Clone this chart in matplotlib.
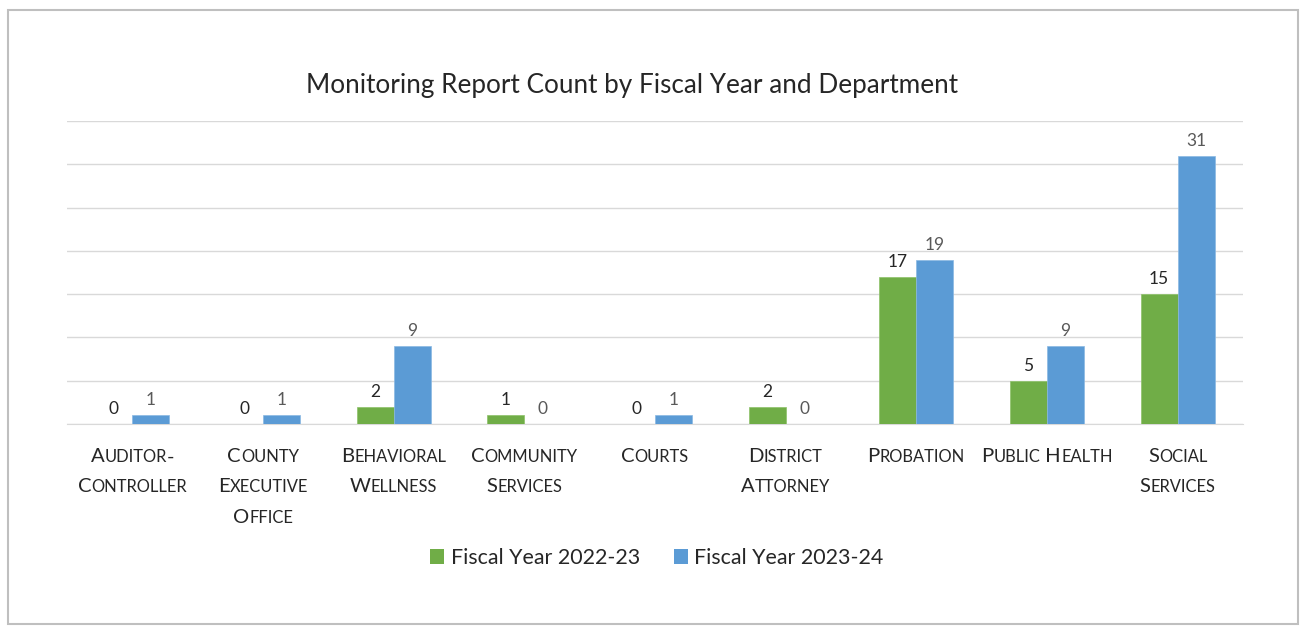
import matplotlib.pyplot as plt
import numpy as np
from matplotlib.offsetbox import TextArea, HPacker, VPacker, AnnotationBbox
from matplotlib.patches import Rectangle, Patch

plt.rcParams['font.family'] = ['Lato', 'DejaVu Sans']

# Dati
departments = ['Auditor-\nController', 'County\nExecutive\nOffice', 'Behavioral\nWellness',
               'Community\nServices', 'Courts', 'District\nAttorney', 'Probation',
               'Public Health', 'Social\nServices']
fy_2223 = [0, 0, 2, 1, 0, 2, 17, 5, 15]
fy_2324 = [1, 1, 9, 0, 1, 0, 19, 9, 31]
series_names = ['Fiscal Year 2022-23', 'Fiscal Year 2023-24']

green = '#70ad47'
blue = '#5b9bd5'

fig = plt.figure(figsize=(13.01, 6.27), dpi=100)
# cornice grigia attorno al grafico
fig.patches.append(Rectangle((8 / 1301, 3 / 627), 1290 / 1301, 614 / 627,
                             transform=fig.transFigure, fill=False,
                             edgecolor='#bfbfbf', linewidth=1.5))

ax = fig.add_axes([67 / 1301, 203 / 627, 1176 / 1301, 303 / 627])

x = np.arange(len(departments))
w = 0.283
b1 = ax.bar(x - w / 2, fy_2223, w, color=green, edgecolor='#8cc168', linewidth=0.5, zorder=3)
b2 = ax.bar(x + w / 2, fy_2324, w, color=blue, edgecolor='#8ab8e3', linewidth=0.5, zorder=3)

for rect, v in zip(b1, fy_2223):
    ax.annotate(str(v), (rect.get_x() + rect.get_width() / 2, v), xytext=(0, 5),
                textcoords='offset points', ha='center', va='bottom', fontsize=12.5, color='#262626')
for rect, v in zip(b2, fy_2324):
    ax.annotate(str(v), (rect.get_x() + rect.get_width() / 2, v), xytext=(0, 5),
                textcoords='offset points', ha='center', va='bottom', fontsize=12.5, color='#595959')

ax.set_xlim(-0.5, len(departments) - 0.5)
ax.set_ylim(0, 35)
ax.set_yticks(np.arange(0, 36, 5))
ax.set_yticklabels([])
ax.set_xticks([])
ax.tick_params(length=0)
ax.grid(axis='y', color='#d9d9d9', linewidth=1, zorder=0)
for s in ['top', 'right', 'left']:
    ax.spines[s].set_visible(False)
ax.spines['bottom'].set_color('#d9d9d9')


# etichette in maiuscoletto (small caps) costruite a pezzi
def small_caps_line(text, big=14.6, small=11.9):
    parts = []
    run, run_small = '', None
    for ch in text:
        is_small = ch.islower()
        if run_small is not None and is_small != run_small:
            parts.append((run, run_small))
            run = ''
        run += ch.upper()
        run_small = is_small
    if run:
        parts.append((run, run_small))
    boxes = [TextArea(t, textprops=dict(fontsize=small if s else big, color='#262626'))
             for t, s in parts]
    return HPacker(children=boxes, align='baseline', pad=0, sep=0)


for i, lab in enumerate(departments):
    lines = [small_caps_line(l) for l in lab.split('\n')]
    box = VPacker(children=lines, align='center', pad=0, sep=9.5)
    ab = AnnotationBbox(box, (i, 0), xycoords=('data', 'axes fraction'),
                        xybox=(0, -17.5), boxcoords='offset points',
                        box_alignment=(0.5, 1), frameon=False)
    ax.add_artist(ab)

fig.text(632 / 1301, 1 - 86 / 627, 'Monitoring Report Count by Fiscal Year and Department',
         ha='center', va='center', fontsize=18.8, color='#262626')

handles = [Patch(facecolor=green), Patch(facecolor=blue)]
fig.legend(handles, series_names, loc='center', bbox_to_anchor=(657 / 1301, 69 / 627),
           ncol=2, frameon=False, fontsize=15.4, handlelength=0.65, handleheight=0.65,
           handletextpad=0.3, columnspacing=1.6, labelcolor='#262626')

fig.savefig('out.png', dpi=100, facecolor='white')
